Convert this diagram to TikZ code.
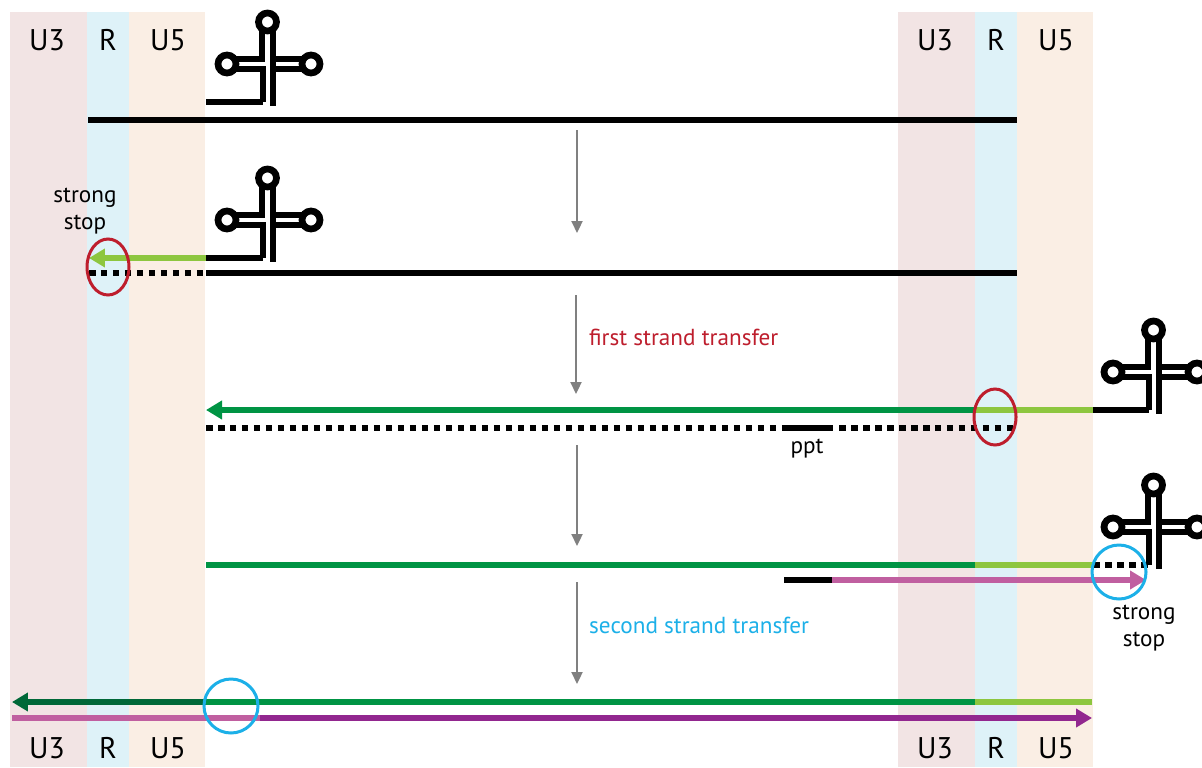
\documentclass[tikz,border=0pt]{standalone}
\usepackage{fontspec}
\setmainfont{PT Sans}
\usetikzlibrary{arrows.meta}
\definecolor{bandU}{HTML}{F2E4E4}
\definecolor{bandR}{HTML}{DEF2F8}
\definecolor{bandF}{HTML}{FAEEE4}
\definecolor{lgreen}{HTML}{8DC63F}
\definecolor{mgreen}{HTML}{009444}
\definecolor{dgreen}{HTML}{006838}
\definecolor{pinkish}{HTML}{C05FA0}
\definecolor{purp}{HTML}{92278F}
\definecolor{stopred}{HTML}{BE1E2D}
\definecolor{stopblue}{HTML}{1CB0E8}
\begin{document}
\begin{tikzpicture}[x=0.02cm,y=-0.02cm,
	strand/.style={line width=0.13cm},
	loopline/.style={line width=0.135cm},
	dots/.style={line width=0.13cm,dash pattern=on 0.13cm off 0.11cm},
	tip/.style={-{Triangle[length=0.32cm,width=0.36cm]}},
	step arrow/.style={draw=gray,line width=0.045cm,-{Triangle[length=0.24cm,width=0.22cm]}},
	region/.style={font=\fontsize{17}{19}\selectfont},
	lbl/.style={font=\fontsize{13.2}{15.5}\selectfont,align=center},
	trna/.pic={
		\draw[loopline] (0,0) |- (-28.5,-33);
		\draw[loopline] (-28.5,-43) -| (-1,-73);
		\draw[loopline] (10,-73) -- (10,4);
		\draw[loopline] (10,-43) -- (40.5,-43);
		\draw[loopline] (40.5,-33) -- (10,-33);
		\draw[loopline] (-36,-38) circle (9);
		\draw[loopline] (48,-38) circle (9);
		\draw[loopline] (4.5,-80) circle (9);
	}]
	\clip (0,0) rectangle (1202,767);
	\fill[white] (0,0) rectangle (1202,767);
	% LTR bands
	\foreach \x in {10,898}{
		\fill[bandU] (\x,12) rectangle ++(77,755);
		\fill[bandR] (\x+77,12) rectangle ++(42,755);
		\fill[bandF] (\x+119,12) rectangle ++(76,755);
		\node[region] at (\x+37,40) {U3};
		\node[region] at (\x+98,40) {R};
		\node[region] at (\x+158,40) {U5};
		\node[region] at (\x+37,748) {U3};
		\node[region] at (\x+98,748) {R};
		\node[region] at (\x+158,748) {U5};
	}
	% tRNA primers
	\coordinate (t1) at (263,102);
	\coordinate (t2) at (263,258);
	\coordinate (t3) at (1149,410);
	\coordinate (t4) at (1149,565);
	\foreach \t in {t1,t2,t3,t4}{
		\pic at (\t) {trna};
	}
	\draw[loopline] (206,102) -- (t1);
	\draw[loopline] (206,258) -- (t2);
	\draw[loopline] (1093,410) -- (t3);
	\draw[dots] (1093,565) -- (t4);
	% row 1
	\draw[strand] (88,120) -- (1017,120);
	\draw[step arrow] (577,130) -- (577,233);
	% row 2
	\draw[strand,lgreen,tip] (206,258) -- (89,258);
	\draw[dots] (89,273) -- (206,273);
	\draw[strand] (206,273) -- (1017,273);
	\draw[stopred,line width=0.06cm] (108,267) ellipse (21 and 28);
	\node[lbl] (ss1) at (85,211) {strong\\stop};
	\draw[step arrow] (576,295) -- (576,394);
	\node[lbl,stopred,anchor=west] (fst) at (583,337) {first strand transfer};
	% row 3
	\draw[strand,lgreen] (975,410) -- (1093,410);
	\draw[strand,mgreen,tip] (975,410) -- (206,410);
	\draw[dots] (206,428) -- (783,428);
	\draw[strand] (783,428) -- (833,428);
	\draw[dots] (839,428) -- (1017,428);
	\node[lbl] (ppt) at (807,449) {ppt};
	\draw[stopred,line width=0.06cm] (995,417) ellipse (21 and 28);
	\draw[step arrow] (577,445) -- (577,546);
	% row 4
	\draw[strand,mgreen] (206,565) -- (975,565);
	\draw[strand,lgreen] (975,565) -- (1093,565);
	\draw[strand] (784,580) -- (832,580);
	\draw[strand,pinkish,tip] (832,580) -- (1146,580);
	\draw[stopblue,line width=0.06cm] (1119,572) circle (27);
	\node[lbl] (ss2) at (1144,628) {strong\\stop};
	\draw[step arrow] (577,582) -- (577,684);
	\node[lbl,stopblue,anchor=west] (sst) at (583,625) {second strand transfer};
	% row 5
	\draw[strand,mgreen] (206,702) -- (975,702);
	\draw[strand,lgreen] (975,702) -- (1092,702);
	\draw[strand,dgreen,tip] (206,702) -- (12,702);
	\draw[strand,pinkish] (12,718) -- (260,718);
	\draw[strand,purp,tip] (260,718) -- (1092,718);
	\draw[stopblue,line width=0.06cm] (231,706) circle (27);
\end{tikzpicture}
\end{document}
